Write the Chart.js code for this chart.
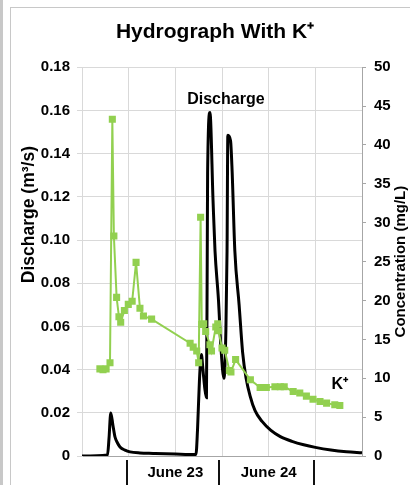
<!DOCTYPE html>
<html>
<head>
<meta charset="utf-8">
<script src="https://cdn.jsdelivr.net/npm/chart.js@4"></script>
<style>
  html, body { margin: 0; padding: 0; background: #fff; overflow: hidden; }
  #strip { position: absolute; left: 0; top: 0; width: 3px; height: 485px; background: #c8c8c8; }
  #frame { position: absolute; left: 10px; top: 7px; width: 420px; height: 480px;
           border-left: 1px solid #c8c8c8; border-top: 1px solid #c8c8c8; }
  #chart { display: block; }
</style>
</head>
<body>
<div id="strip"></div>
<div id="frame">
  <canvas id="chart" style="width: 408px; height: 477px"></canvas>
</div>
<script>
// hours since June 22 12:00
const dischargeHours = [0, 6.56, 6.94, 7.4, 7.97, 8.49, 9.13, 9.77, 11.06, 12.34, 14.9, 18.3, 24, 29.3,
    29.7, 30.2, 30.7, 31.1, 31.6, 32.0, 32.2, 32.3, 32.9, 33.7, 34.2, 35.1, 35.7, 36.5,
    37.0, 37.3, 37.5, 38.2, 38.6, 39.3, 40.4, 41.3, 42.2, 43.2, 44.5, 46.3, 48.5, 51, 54, 57, 60, 64, 68, 72];
const dischargeValues = [0, 0.0005, 0.008, 0.0199, 0.014, 0.0088, 0.006, 0.0042, 0.0027, 0.0019, 0.0014, 0.0012, 0.0009, 0.0007,
    0.012, 0.035, 0.047, 0.04, 0.031, 0.027, 0.09, 0.131, 0.159, 0.118, 0.095, 0.072, 0.051, 0.036,
    0.058, 0.095, 0.1485, 0.146, 0.132, 0.095, 0.070, 0.048, 0.036, 0.028, 0.021, 0.016, 0.012, 0.009, 0.0068, 0.0052, 0.004, 0.0028, 0.002, 0.0015];

const kHours = [4.6, 5.4, 6.2, 7.2, 7.8, 8.2, 8.9, 9.5, 9.95, 10.9, 11.9, 12.9, 13.9, 14.9, 15.8, 17.9,
    27.8, 28.6, 29.5, 30.0, 30.5, 30.8, 31.3, 31.8, 32.9, 33.3, 34.4, 34.9, 35.1, 36.0, 36.7, 37.9, 38.3, 39.5,
    43.3, 45.8, 47.4, 49.6, 51.0, 52.0, 54.3, 56.0, 57.7, 59.4, 61.2, 62.9, 65.0, 66.3];
const kValues = [11.2, 11.1, 11.2, 12.0, 43.3, 28.3, 20.4, 17.9, 17.2, 18.7, 19.5, 19.9, 24.9, 19.0, 18.0, 17.6,
    14.5, 14.0, 13.5, 12.0, 30.7, 16.9, 17.0, 16.0, 14.3, 13.5, 16.6, 17.0, 16.1, 13.9, 13.6, 11.0, 10.8, 12.4,
    9.8, 8.8, 8.8, 8.9, 8.9, 8.9, 8.3, 8.1, 7.7, 7.3, 7.0, 6.8, 6.6, 6.5];

const dayLabels = {24: 'June 23', 48: 'June 24'};
const dayBreaks = [11.6, 35.2, 59.7];

const boldFont = '"Liberation Sans", Arial, sans-serif';

const extras = {
    id: 'extras',
    afterDraw(chart) {
        const {ctx, chartArea: a, scales: {x, y, y2}} = chart;
        ctx.save();
        ctx.fillStyle = '#000';
        ctx.textAlign = 'center';
        ctx.textBaseline = 'middle';

        ctx.font = 'bold 17.5px ' + boldFont;
        ctx.save();
        ctx.translate(a.left - 53, (a.top + a.bottom) / 2 - 47);
        ctx.rotate(-Math.PI / 2);
        ctx.fillText('Discharge (m³/s)', 0, 0);
        ctx.restore();

        ctx.font = 'bold 15px ' + boldFont;
        ctx.save();
        ctx.translate(a.right + 39, (a.top + a.bottom) / 2);
        ctx.rotate(-Math.PI / 2);
        ctx.fillText('Concentration (mg/L)', 0, 0);
        ctx.restore();

        ctx.font = 'bold 16px ' + boldFont;
        ctx.fillText('Discharge', x.getPixelForValue(37), y.getPixelForValue(0.165));
        ctx.fillText('K⁺', x.getPixelForValue(66.3), y2.getPixelForValue(9.2));

        ctx.strokeStyle = '#111';
        ctx.lineWidth = 2;
        dayBreaks.forEach(h => {
            const px = Math.round(x.getPixelForValue(h));
            ctx.beginPath();
            ctx.moveTo(px, a.bottom + 4);
            ctx.lineTo(px, chart.height);
            ctx.stroke();
        });
        ctx.restore();
    }
};

const config = {
    type: 'line',
    data: {
        datasets: [
            {
                label: 'K+',
                data: kHours.map((h, i) => ({x: h, y: kValues[i]})),
                yAxisID: 'y2',
                borderColor: '#92D050',
                backgroundColor: '#92D050',
                borderWidth: 2,
                pointStyle: 'rect',
                pointRadius: 5,
                pointBorderWidth: 0,
                pointBackgroundColor: '#92D050',
                tension: 0,
                order: 0
            },
            {
                label: 'Discharge',
                data: dischargeHours.map((h, i) => ({x: h, y: dischargeValues[i]})),
                yAxisID: 'y',
                borderColor: '#000',
                borderWidth: 3,
                pointRadius: 0,
                cubicInterpolationMode: 'monotone',
                order: 1
            }
        ]
    },
    options: {
        responsive: false,
        animation: false,
        events: [],
        layout: {padding: 0},
        plugins: {
            legend: {display: false},
            tooltip: {enabled: false},
            title: {
                display: true,
                text: 'Hydrograph With K⁺',
                color: '#000',
                font: {family: boldFont, size: 21, weight: 'bold'},
                padding: {top: 12, bottom: 22}
            }
        },
        scales: {
            x: {
                type: 'linear',
                min: 0,
                max: 72,
                afterFit: s => { s.height = 29; },
                grid: {color: '#d9d9d9', drawTicks: false},
                border: {color: '#a6a6a6'},
                ticks: {
                    stepSize: 12,
                    padding: 8,
                    color: '#000',
                    maxRotation: 0,
                    autoSkip: false,
                    font: {family: boldFont, size: 15, weight: 'bold'},
                    callback: v => dayLabels[v] || ''
                }
            },
            y: {
                position: 'left',
                min: 0,
                max: 0.18,
                afterFit: s => { s.width = 71; },
                grid: {color: '#d9d9d9', tickLength: 5, tickColor: '#d9d9d9'},
                border: {color: '#d9d9d9'},
                ticks: {
                    stepSize: 0.02,
                    padding: 7,
                    color: '#000',
                    font: {family: boldFont, size: 15, weight: 'bold'}
                }
            },
            y2: {
                position: 'right',
                min: 0,
                max: 50,
                afterFit: s => { s.width = 57; },
                grid: {drawOnChartArea: false, tickLength: 4, tickColor: '#a6a6a6'},
                border: {color: '#a6a6a6'},
                ticks: {
                    stepSize: 5,
                    padding: 8,
                    color: '#000',
                    font: {family: boldFont, size: 15, weight: 'bold'}
                }
            }
        }
    },
    plugins: [extras]
};

const canvas = document.getElementById('chart');
canvas.width = 408;
canvas.height = 477;
window.hydroChart = new Chart(canvas.getContext('2d'), config);
</script>
</body>
</html>
